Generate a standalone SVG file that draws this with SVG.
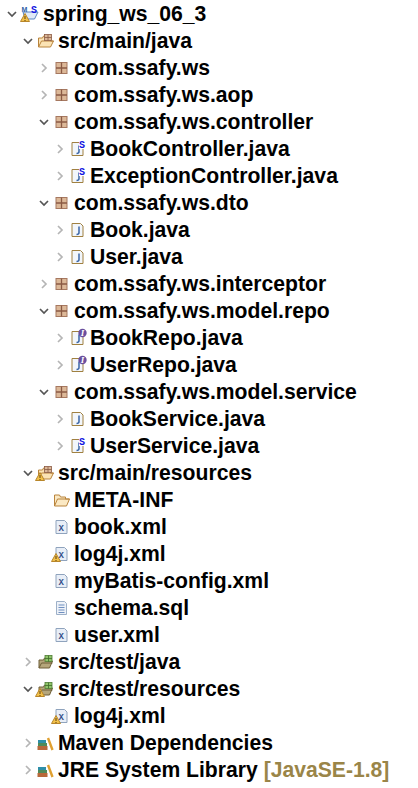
<svg xmlns="http://www.w3.org/2000/svg" width="418" height="788" viewBox="0 0 418 788">
<style>
text{font-family:"Liberation Sans",Arial,sans-serif;font-size:21.15px;font-weight:bold;fill:#000}
.dec{fill:#9a8548}
.open{fill:none;stroke:#555;stroke-width:1.7}
.closed{fill:none;stroke:#b5b5b5;stroke-width:1.7}
.s{font:bold 10px "Liberation Mono",monospace;fill:#1414e0}
.m{font:bold 7px "Liberation Sans",sans-serif;fill:#2f5fa8}
.i{font:italic bold 9px "Liberation Serif",serif;fill:#fff}
.x{font:bold 9px "Liberation Mono",monospace;fill:#33508a}
</style>
<defs>
<path id="down" class="open" d="M-4 -2L0 2L4 -2"/>
<path id="right" class="closed" d="M-2 -4L2 0L-2 4"/>
<g id="pkg"><rect x="-5.5" y="-5.5" width="11" height="11" fill="#dcb898" stroke="#a67860"/><path d="M-5.5 0H5.5M0 -5.5V5.5" stroke="#8a5a44" stroke-width="1.3"/></g>
<g id="java"><path d="M-5.5 -6.5H3L5.5 -4V6.5H-5.5Z" fill="#f2f6fb" stroke="#a08040"/><path d="M1.5 -3.5V2.5Q1.5 4.5 -1 4.5" fill="none" stroke="#3a66a8" stroke-width="1.5"/></g>
<g id="javaS"><use href="#java"/><rect x="1.5" y="-9" width="6" height="9" fill="#fff"/><text class="s" x="1.5" y="-1.5">S</text></g>
<g id="javaI"><use href="#java"/><circle cx="5" cy="-5" r="4.2" fill="#6a4f9e"/><text class="i" x="3.2" y="-1.8">I</text></g>
<g id="xml"><path d="M-5.5 -6.5H3L5.5 -4V6.5H-5.5Z" fill="#e8eef7" stroke="#8fa3bd"/><text class="x" x="-3" y="4">X</text></g>
<g id="warn"><path d="M0 -4.5L4.5 3.5H-4.5Z" fill="#f2c14a" stroke="#b8862a"/><path d="M0 -2V1M0 2V3" stroke="#5a3d10"/></g>
<g id="srcfolder"><path d="M-7 6V-3H-3L-2 -5H3V-2H5V0H8L5 6Z" fill="#fbe3b4" stroke="#b9843c"/><path d="M-7 6L-4 0H8" fill="none" stroke="#b9843c"/><rect x="-1" y="-6.5" width="7" height="6" fill="#dcb898" stroke="#8a5a44" stroke-width=".8"/><path d="M2.5 -6.5V-.5M-1 -3.5H6" stroke="#8a5a44" stroke-width=".8"/></g>
<g id="testfolder"><path d="M-6.5 6V-2H-2L-1 -4H4V-1H7L4 6Z" fill="#b5a67c" stroke="#6e5f38"/><path d="M-6.5 6L-4 1H7" fill="none" stroke="#6e5f38"/><rect x="-.5" y="-6.5" width="7" height="6" fill="#8fc46a" stroke="#4f7d35" stroke-width=".8"/><path d="M3 -6.5V-.5M-.5 -3.5H6.5" stroke="#3f6b2a" stroke-width=".8"/></g>
<g id="folder"><path d="M-7 6V-5H-2L-1 -3H4V-1H8L5 6Z" fill="#fbe9c4" stroke="#b9843c"/><path d="M-7 6L-4 -1H8" fill="none" stroke="#b9843c"/></g>
<g id="sql"><path d="M-5 -6.5H3L5 -4.5V6.5H-5Z" fill="#eef2f8" stroke="#9db0c8"/><path d="M-3 -3H3M-3 -.5H3M-3 2H3M-3 4.5H3" stroke="#6f8fc0"/></g>
<g id="lib"><rect x="-7" y="-3" width="8" height="3" fill="#2f8fa8"/><rect x="-7" y="0" width="9" height="3" fill="#4f8a5a"/><rect x="-7.5" y="3" width="10" height="4" fill="#b8683a"/><path d="M3 -5L7.5 7" stroke="#e0a030" stroke-width="2.4"/></g>
<g id="project"><path d="M-7 -2H8L4.5 5H-5Z" fill="#dfe9f7" stroke="#5b85c0"/><text class="m" x="-8.5" y="-2.5">M</text><text class="s" x="1" y="-1.5">S</text><use href="#warn" x="-5" y="4"/></g>
</defs>
<rect width="418" height="788" fill="#fff"/>
<g id="spring_ws_06_3"><use href="#down" x="12" y="14"/><use href="#project" x="30" y="14"/><text x="43" y="21">spring_ws_06_3</text></g>
<g id="src-main-java"><use href="#down" x="28" y="41"/><use href="#srcfolder" x="45.5" y="41"/><text x="58" y="48">src/main/java</text></g>
<g id="pkg-ws"><use href="#right" x="44" y="68"/><use href="#pkg" x="61.5" y="68"/><text x="74" y="75">com.ssafy.ws</text></g>
<g id="pkg-aop"><use href="#right" x="44" y="95"/><use href="#pkg" x="61.5" y="95"/><text x="74" y="102">com.ssafy.ws.aop</text></g>
<g id="pkg-controller"><use href="#down" x="44" y="122"/><use href="#pkg" x="61.5" y="122"/><text x="74" y="129">com.ssafy.ws.controller</text></g>
<g id="BookController"><use href="#right" x="60" y="149"/><use href="#javaS" x="77.5" y="149"/><text x="90" y="156">BookController.java</text></g>
<g id="ExceptionController"><use href="#right" x="60" y="176"/><use href="#javaS" x="77.5" y="176"/><text x="90" y="183">ExceptionController.java</text></g>
<g id="pkg-dto"><use href="#down" x="44" y="203"/><use href="#pkg" x="61.5" y="203"/><text x="74" y="210">com.ssafy.ws.dto</text></g>
<g id="Book"><use href="#right" x="60" y="230"/><use href="#java" x="77.5" y="230"/><text x="90" y="237">Book.java</text></g>
<g id="User"><use href="#right" x="60" y="257"/><use href="#java" x="77.5" y="257"/><text x="90" y="264">User.java</text></g>
<g id="pkg-interceptor"><use href="#right" x="44" y="284"/><use href="#pkg" x="61.5" y="284"/><text x="74" y="291">com.ssafy.ws.interceptor</text></g>
<g id="pkg-repo"><use href="#down" x="44" y="311"/><use href="#pkg" x="61.5" y="311"/><text x="74" y="318">com.ssafy.ws.model.repo</text></g>
<g id="BookRepo"><use href="#right" x="60" y="338"/><use href="#javaI" x="77.5" y="338"/><text x="90" y="345">BookRepo.java</text></g>
<g id="UserRepo"><use href="#right" x="60" y="365"/><use href="#javaI" x="77.5" y="365"/><text x="90" y="372">UserRepo.java</text></g>
<g id="pkg-service"><use href="#down" x="44" y="392"/><use href="#pkg" x="61.5" y="392"/><text x="74" y="399">com.ssafy.ws.model.service</text></g>
<g id="BookService"><use href="#right" x="60" y="419"/><use href="#java" x="77.5" y="419"/><text x="90" y="426">BookService.java</text></g>
<g id="UserService"><use href="#right" x="60" y="446"/><use href="#javaS" x="77.5" y="446"/><text x="90" y="453">UserService.java</text></g>
<g id="src-main-resources"><use href="#down" x="28" y="473"/><use href="#srcfolder" x="45.5" y="473"/><use href="#warn" x="40" y="477"/><text x="58" y="480">src/main/resources</text></g>
<g id="META-INF"><use href="#folder" x="61.5" y="500"/><text x="74" y="507">META-INF</text></g>
<g id="book-xml"><use href="#xml" x="61.5" y="527"/><text x="74" y="534">book.xml</text></g>
<g id="log4j-xml"><use href="#xml" x="61.5" y="554"/><use href="#warn" x="56" y="558"/><text x="74" y="561">log4j.xml</text></g>
<g id="myBatis"><use href="#xml" x="61.5" y="581"/><text x="74" y="588">myBatis-config.xml</text></g>
<g id="schema"><use href="#sql" x="61.5" y="608"/><text x="74" y="615">schema.sql</text></g>
<g id="user-xml"><use href="#xml" x="61.5" y="635"/><text x="74" y="642">user.xml</text></g>
<g id="src-test-java"><use href="#right" x="28" y="662"/><use href="#testfolder" x="45.5" y="662"/><text x="58" y="669">src/test/java</text></g>
<g id="src-test-resources"><use href="#down" x="28" y="689"/><use href="#testfolder" x="45.5" y="689"/><use href="#warn" x="40" y="693"/><text x="58" y="696">src/test/resources</text></g>
<g id="log4j-test"><use href="#xml" x="61.5" y="716"/><use href="#warn" x="56" y="720"/><text x="74" y="723">log4j.xml</text></g>
<g id="maven"><use href="#right" x="28" y="743"/><use href="#lib" x="45" y="743"/><text x="58" y="750">Maven Dependencies</text></g>
<g id="jre"><use href="#right" x="28" y="770"/><use href="#lib" x="45" y="770"/><text x="58" y="777">JRE System Library <tspan class="dec">[JavaSE-1.8]</tspan></text></g>
</svg>
